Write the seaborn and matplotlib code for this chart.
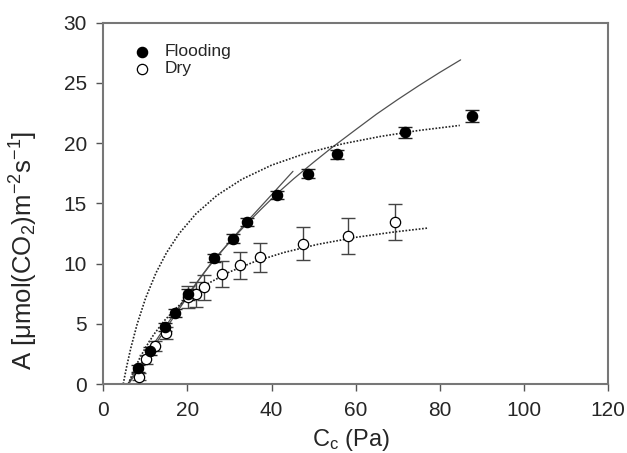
import matplotlib
matplotlib.use("Agg")
import matplotlib.pyplot as plt
import seaborn as sns

# ---- data ----
flood_x = [8.3, 11.1, 14.7, 17.0, 20.1, 26.2, 30.8, 34.1, 41.4, 48.6, 55.6, 71.7, 87.8]
flood_y = [1.30, 2.76, 4.75, 5.91, 7.46, 10.47, 12.07, 13.45, 15.70, 17.46, 19.05, 20.90, 22.26]
flood_err = [0.30, 0.35, 0.35, 0.35, 0.45, 0.35, 0.35, 0.35, 0.35, 0.40, 0.40, 0.45, 0.52]

dry_x = [8.5, 10.1, 12.3, 14.9, 20.2, 22.1, 24.0, 28.3, 32.5, 37.3, 47.4, 58.2, 69.4]
dry_y = [0.61, 2.05, 3.15, 4.25, 7.24, 7.43, 8.01, 9.11, 9.86, 10.50, 11.65, 12.29, 13.48]
dry_err = [0.30, 0.35, 0.40, 0.50, 0.93, 1.04, 1.00, 1.07, 1.13, 1.20, 1.34, 1.52, 1.49]

# fitted curves
fit_flood_dot_x = [4.7, 5.5, 6.5, 8, 10, 12.5, 15, 18, 22, 27, 33, 40, 48, 57, 66, 75, 84.8]
fit_flood_dot_y = [0.0, 1.41, 2.97, 4.95, 7.10, 9.22, 10.89, 12.48, 14.12, 15.65, 17.00,
                   18.16, 19.13, 19.94, 20.55, 21.04, 21.46]

fit_dry_dot_x = [5.9, 7, 8.5, 10, 12, 14.5, 17.5, 21, 25, 30, 36, 43, 51, 60, 69, 77.4]
fit_dry_dot_y = [0.0, 0.94, 2.06, 3.02, 4.12, 5.26, 6.37, 7.41, 8.36, 9.30, 10.16, 10.92,
                 11.59, 12.17, 12.61, 12.95]

fit_long_x = [6.0, 8.3, 11.1, 14.7, 17.0, 20.1, 23.0, 26.2, 30.6, 34.1, 37.5, 41.3, 45.3,
              50.0, 54.4, 60.0, 65.0, 70.0, 75.0, 80.0, 85.0]
fit_long_y = [0.0, 1.2, 2.65, 4.5, 5.7, 7.3, 8.8, 10.3, 12.0, 13.3, 14.5, 15.8, 17.04,
              18.4, 19.63, 21.1, 22.4, 23.6, 24.75, 25.85, 26.9]

fit_short_x = [5.8, 10, 15, 20, 25, 30, 35, 40, 45.1]
fit_short_y = [0.0, 2.3, 4.9, 7.4, 9.7, 11.8, 13.8, 15.7, 17.65]

legend_labels = ["Flooding", "Dry"]
x_ticks = [0, 20, 40, 60, 80, 100, 120]
y_ticks = [0, 5, 10, 15, 20, 25, 30]

# ---- style ----
sns.set_style("white")
plt.rcParams["font.family"] = ["Liberation Sans", "DejaVu Sans"]
plt.rcParams["mathtext.fontset"] = "custom"
plt.rcParams["mathtext.rm"] = "Liberation Sans"
plt.rcParams["mathtext.it"] = "Liberation Sans:italic"
plt.rcParams["mathtext.default"] = "regular"

fig = plt.figure(figsize=(6.27, 4.53), dpi=100)
ax = fig.add_axes([0.165, 0.1523, 0.8042, 0.7980])

line_col = "#505050"
sns.lineplot(x=fit_long_x, y=fit_long_y, ax=ax, sort=False, color=line_col, lw=0.9, estimator=None)
sns.lineplot(x=fit_short_x, y=fit_short_y, ax=ax, sort=False, color=line_col, lw=0.9, estimator=None)
sns.lineplot(x=fit_flood_dot_x, y=fit_flood_dot_y, ax=ax, sort=False, color="#222222", lw=1.2,
             linestyle=(0, (1, 1)), estimator=None)
sns.lineplot(x=fit_dry_dot_x, y=fit_dry_dot_y, ax=ax, sort=False, color="#222222", lw=1.2,
             linestyle=(0, (1, 1)), estimator=None)

ax.errorbar(dry_x, dry_y, yerr=dry_err, fmt="none", ecolor="#444444", elinewidth=1.0,
            capsize=5, capthick=1.0, zorder=3)
ax.errorbar(flood_x, flood_y, yerr=flood_err, fmt="none", ecolor="#222222", elinewidth=1.0,
            capsize=5, capthick=1.0, zorder=3)

sns.scatterplot(x=dry_x, y=dry_y, ax=ax, marker="o", s=55, facecolor="white",
                edgecolor="black", linewidth=0.9, zorder=4, label=legend_labels[1])
sns.scatterplot(x=flood_x, y=flood_y, ax=ax, marker="o", s=55, color="black",
                edgecolor="black", linewidth=0.9, zorder=5, label=legend_labels[0])

handles, labels = ax.get_legend_handles_labels()
order = [labels.index(legend_labels[0]), labels.index(legend_labels[1])]
ax.legend([handles[i] for i in order], [labels[i] for i in order],
          loc="upper left", bbox_to_anchor=(0.045, 0.96), frameon=False,
          fontsize=12.5, handletextpad=0.8, labelspacing=0.12, borderaxespad=0,
          handlelength=1.0)

ax.set_xlim(0, 120)
ax.set_ylim(0, 30)
ax.set_xticks(x_ticks)
ax.set_yticks(y_ticks)
ax.tick_params(axis="both", direction="out", length=5, width=1.0, color="#555555",
               labelsize=15, pad=7, bottom=True, left=True)
for side in ["left", "bottom", "top", "right"]:
    ax.spines[side].set_visible(True)
    ax.spines[side].set_color("#777777")
    ax.spines[side].set_linewidth(1.5)

ax.set_xlabel("C$_c$ (Pa)", fontsize=17)
ax.set_ylabel(r"A [$\mu$mol(CO$_2$)m$^{-2}$s$^{-1}$]", fontsize=18.5)
ax.xaxis.set_label_coords(0.491, -0.118)
ax.yaxis.set_label_coords(-0.125, 0.37)

fig.savefig("out.png", dpi=100)
